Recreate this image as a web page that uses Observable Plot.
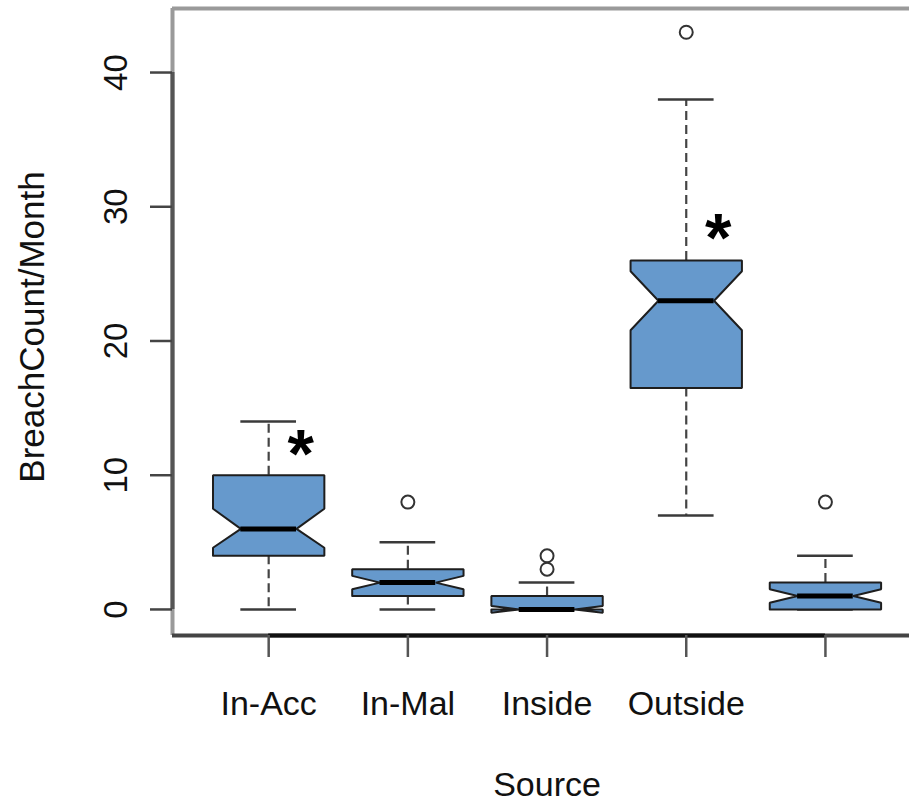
<!DOCTYPE html>
<html><head><meta charset="utf-8">
<script src="https://cdn.jsdelivr.net/npm/d3@7"></script>
<script src="https://cdn.jsdelivr.net/npm/@observablehq/plot@0.6"></script>
<style>html,body{margin:0;padding:0;background:#fff;overflow:hidden}</style>
</head><body><div id="chart"></div>
<script>
// ---- data ----
const categories   = ["In-Acc", "In-Mal", "Inside", "Outside", ""];
const whiskerLow   = [0,   0,   0,     7,    0];
const q1           = [4,   1,   0,     16.5, 0];
const median       = [6,   2,   0,     23,   1];
const q3           = [10,  3,   1,     26,   2];
const whiskerHigh  = [14,  5,   2,     38,   4];
const notchLow     = [4.6, 1.5, -0.25, 20.8, 0.5];
const notchHigh    = [7.5, 2.5, 0.25,  25.2, 1.5];
const outlierCategory = ["In-Mal", "Inside", "Inside", "Outside", ""];
const outlierValue    = [8,        3,        4,        43,        8];
const starCategory = ["In-Acc", "Outside"];
const starValue    = [12.3, 28.4];
const yTicks = [0, 10, 20, 30, 40];
const xLabel = "Source";
const yLabel = "BreachCount/Month";

// ---- derived tables ----
const idx = categories.map((_, i) => i);
const pos = c => categories.indexOf(c) + 1;
const halfW = 0.4, notchFrac = 0.5, stapleHalf = 0.2;
const boxPts = idx.flatMap(i => {
  const x = i + 1;
  const pts = [[-1, q1[i]], [1, q1[i]], [1, notchLow[i]], [notchFrac, median[i]], [1, notchHigh[i]],
               [1, q3[i]], [-1, q3[i]], [-1, notchHigh[i]], [-notchFrac, median[i]], [-1, notchLow[i]], [-1, q1[i]]];
  return pts.map(([k, y]) => ({g: i, x: x + k * halfW, y}));
});
const outliers = outlierCategory.map((c, i) => ({x: pos(c), y: outlierValue[i]}));
const stars = starCategory.map((c, i) => ({x: pos(c), y: starValue[i]}));
const xDomain = [0.309, 5.604];
const yDomain = [-1.94, 44.77];
const font = "'Liberation Sans', Arial, Helvetica, sans-serif";

const chart = Plot.plot({
  width: 909,
  height: 801,
  marginLeft: 172,
  marginRight: 0,
  marginTop: 8,
  marginBottom: 166,
  style: {fontFamily: font, color: "#111", background: "#fff"},
  x: {domain: xDomain},
  y: {domain: yDomain},
  marks: [
    // plot box
    Plot.ruleY([yDomain[1]], {stroke: "#9a9a9a", strokeWidth: 4}),
    Plot.ruleX([xDomain[0]], {stroke: "#9a9a9a", strokeWidth: 4}),
    Plot.ruleY([yDomain[0]], {stroke: "#444", strokeWidth: 4}),
    // axis lines
    Plot.ruleX([xDomain[0]], {y1: yTicks[0], y2: yTicks[yTicks.length - 1], stroke: "#555", strokeWidth: 4}),
    Plot.ruleY([yDomain[0]], {x1: 1, x2: categories.length, stroke: "#111", strokeWidth: 4}),
    // tick marks
    Plot.axisY({ticks: yTicks, tickSize: 22, tickFormat: () => "", stroke: "#444", strokeWidth: 2.5, label: null}),
    Plot.axisX({ticks: idx.map(i => i + 1), tickSize: 22, tickFormat: () => "", stroke: "#555", strokeWidth: 2.5, label: null}),
    // whiskers
    Plot.ruleX(idx, {x: i => i + 1, y1: i => q3[i], y2: i => whiskerHigh[i], stroke: "#444", strokeWidth: 2.2, strokeDasharray: "9,5"}),
    Plot.ruleX(idx, {x: i => i + 1, y1: i => q1[i], y2: i => whiskerLow[i], stroke: "#444", strokeWidth: 2.2, strokeDasharray: "9,5"}),
    Plot.ruleY(idx, {x1: i => i + 1 - stapleHalf, x2: i => i + 1 + stapleHalf, y: i => whiskerHigh[i], stroke: "#3a3a3a", strokeWidth: 2.5}),
    Plot.ruleY(idx, {x1: i => i + 1 - stapleHalf, x2: i => i + 1 + stapleHalf, y: i => whiskerLow[i], stroke: "#3a3a3a", strokeWidth: 2.5}),
    // notched boxes
    Plot.line(boxPts, {x: "x", y: "y", z: "g", fill: "#6699cc", stroke: "#1e1e1e", strokeWidth: 2, strokeLinejoin: "miter"}),
    // medians
    Plot.ruleY(idx, {x1: i => i + 1 - halfW * notchFrac, x2: i => i + 1 + halfW * notchFrac, y: i => median[i], stroke: "#000", strokeWidth: 5}),
    // outliers
    Plot.dot(outliers, {x: "x", y: "y", r: 6.5, stroke: "#333", strokeWidth: 2, fill: "none"}),
    // significance stars
    Plot.text(stars, {x: "x", y: "y", text: () => "*", dx: 32, dy: 11, fontSize: 68, fontWeight: "bold", lineAnchor: "middle", fill: "#000"}),
    // tick labels
    Plot.text(yTicks, {y: d => d, text: d => String(d), frameAnchor: "left", dx: -46, rotate: -90, textAnchor: "middle", lineAnchor: "bottom", fontSize: 33, fill: "#111"}),
    Plot.text(idx, {x: i => i + 1, text: i => categories[i], frameAnchor: "bottom", dy: 55, lineAnchor: "top", fontSize: 34, fill: "#111"}),
    // axis titles
    Plot.text([xLabel], {x: () => (1 + categories.length) / 2, text: d => d, frameAnchor: "bottom", dy: 160, lineAnchor: "bottom", fontSize: 34, fill: "#111"}),
    Plot.text([yLabel], {text: d => d, frameAnchor: "left", dx: -129, dy: 5, rotate: -90, textAnchor: "middle", lineAnchor: "bottom", fontSize: 35, fill: "#111"})
  ]
});
document.getElementById("chart").appendChild(chart);
</script>
</body></html>
